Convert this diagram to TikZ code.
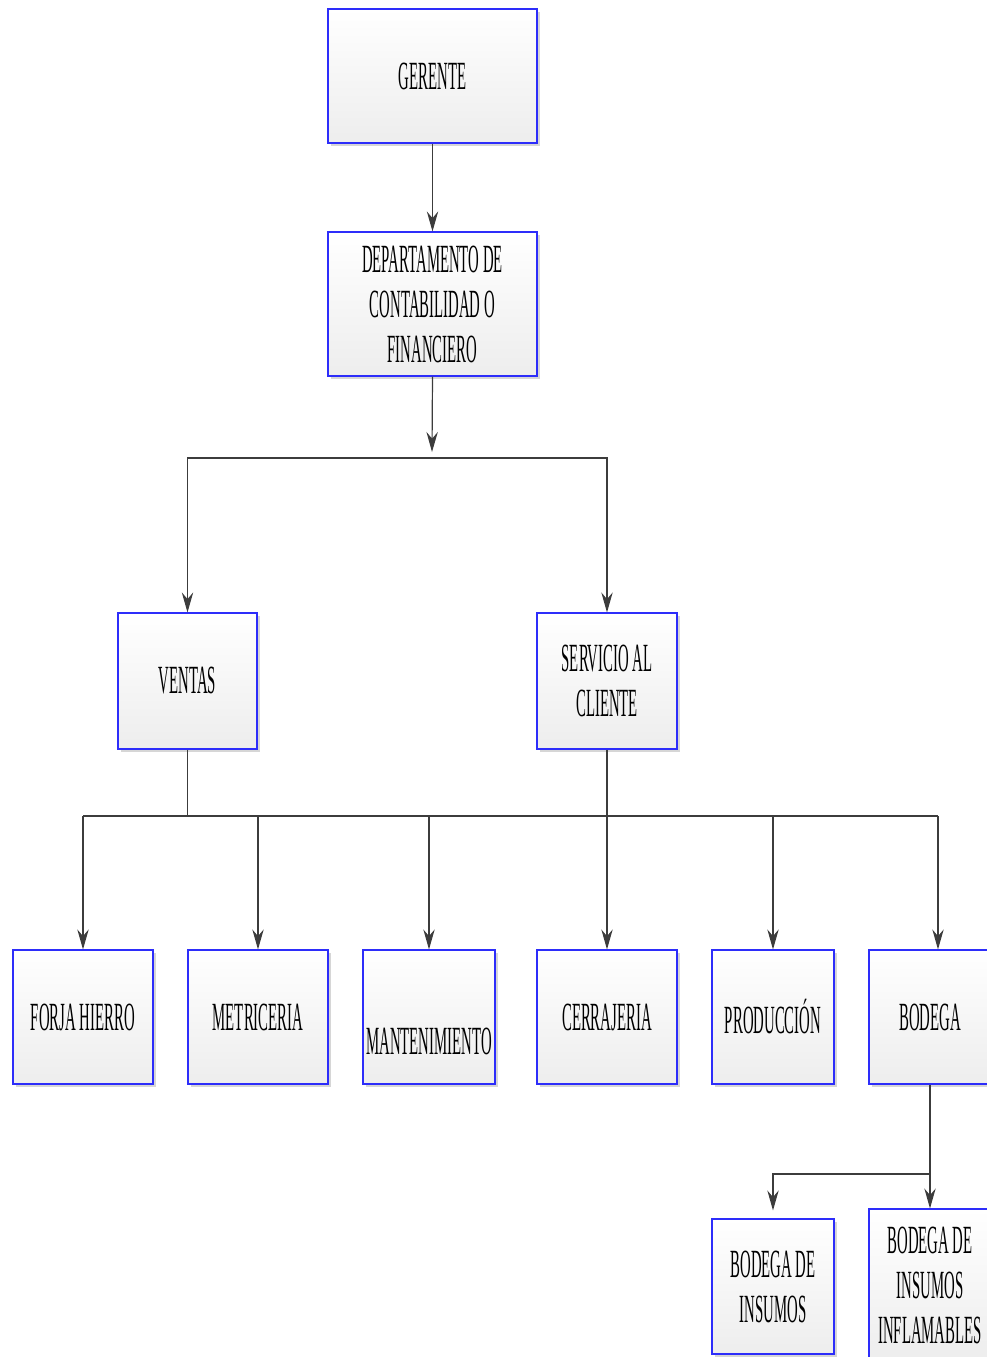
\documentclass[tikz,border=0pt]{standalone}
\usepackage{fontspec}
\newfontfamily\boxfont[FakeStretch=0.37]{Liberation Serif}
\usetikzlibrary{arrows.meta,shadows}
\definecolor{boxblue}{RGB}{45,45,250}
\definecolor{linegray}{RGB}{60,60,60}
\begin{document}
\begin{tikzpicture}[x=0.75pt,y=-0.75pt,
  unit/.style={draw=boxblue,line width=0.8pt,top color=white,bottom color=black!7,
    drop shadow={shadow xshift=2.4pt,shadow yshift=-2.4pt,fill=black!16,opacity=1},
    align=center,inner sep=0pt,
    font=\boxfont\fontsize{30}{33.75}\selectfont},
  wide/.style={unit,minimum width=156.75pt},
  mid/.style={unit,minimum width=105pt,minimum height=100.5pt},
  slim/.style={unit,minimum width=91.5pt,minimum height=100.5pt},
  conn/.style={draw=linegray,line width=0.9pt},
  arr/.style={conn,-{Stealth[length=15pt,width=8.5pt,inset=5pt]}},
  arrboth/.style={conn,{Stealth[length=15pt,width=8.5pt,inset=5pt]}-{Stealth[length=15pt,width=8.5pt,inset=5pt]}}]
\useasboundingbox (0,0) rectangle (987,1357);
\clip (0,0) rectangle (987,1357);

% top of the chart
\node[wide,minimum height=100.5pt] (gerente) at (432.5,76) {GERENTE};
\node[wide,minimum height=108pt] (depto) at (432.5,304) {DEPARTAMENTO DE\\CONTABILIDAD O\\FINANCIERO};

% second level
\node[mid,minimum width=104.25pt,minimum height=102pt] (ventas) at (187.5,681) {VENTAS};
\node[mid,minimum height=102pt] (servicio) at (607,681) {SERVICIO AL\\CLIENTE};

% third level
\node[mid] (forja) at (83,1017) {FORJA HIERRO};
\node[mid] (metri) at (258,1017) {METRICERIA};
\node[mid,minimum width=99pt] (mant) at (429,1017) {\raisebox{-28pt}[0pt][0pt]{MANTENIMIENTO}};
\node[mid] (cerra) at (607,1017) {CERRAJERIA};
\node[slim] (prod) at (773,1017) {PRODUCCIÓN};
\node[slim] (bodega) at (930,1017) {BODEGA};

% storage units
\node[slim,minimum height=101.25pt] (insumos) at (773,1286.5) {BODEGA DE\\INSUMOS};
\node[slim,minimum height=114pt] (inflam) at (930,1285) {BODEGA DE\\INSUMOS\\INFLAMABLES};

% connectors
\coordinate (deptend) at (432,452);
\coordinate (split) at (432,458);
\coordinate (bus) at (0,816);
\coordinate (tee) at (930,1174);
\coordinate (bodin) at ([xshift=6pt]bodega.north);

\draw[arr] (gerente) -- (depto);
\draw[arr] (depto.south) -- (deptend);
\draw[arrboth] (ventas.north) |- (split) -| (servicio.north);

\draw[conn] (ventas.south) -- (ventas.south |- bus);
\draw[conn] (forja.north |- bus) -- (bodin |- bus);
\draw[arr] (forja.north |- bus) -- (forja.north);
\draw[arr] (metri.north |- bus) -- (metri.north);
\draw[arr] (mant.north |- bus) -- (mant.north);
\draw[arr] (servicio.south) -- (cerra.north);
\draw[arr] (prod.north |- bus) -- (prod.north);
\draw[arr] (bodin |- bus) -- (bodin);

\draw[arr] (bodega.south) -- (inflam.north);
\draw[arr,shorten >=6pt] (tee) -| (insumos.north);
\end{tikzpicture}
\end{document}
